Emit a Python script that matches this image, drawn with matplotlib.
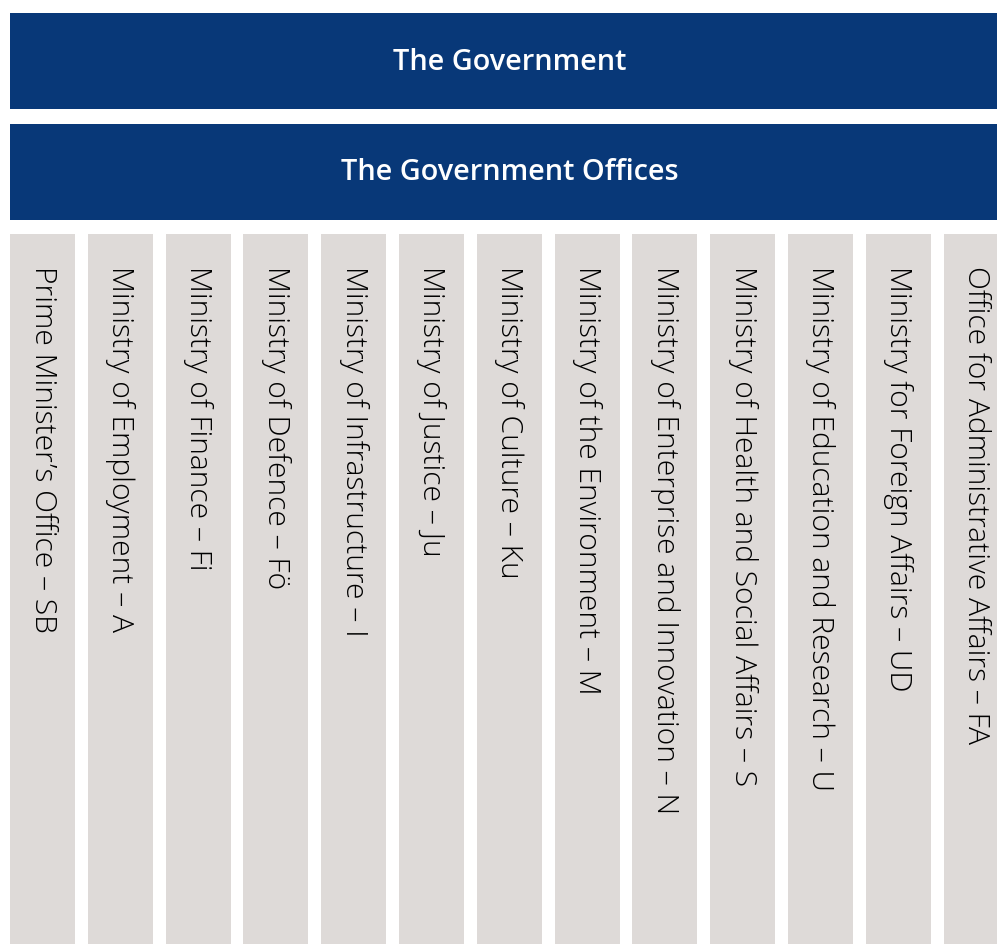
import matplotlib
matplotlib.use("Agg")
import matplotlib.pyplot as plt
from matplotlib.patches import Rectangle

top_labels = ["The Government", "The Government Offices"]
ministries = [
    "Prime Minister’s Office – SB",
    "Ministry of Employment – A",
    "Ministry of Finance – Fi",
    "Ministry of Defence – Fö",
    "Ministry of Infrastructure – I",
    "Ministry of Justice – Ju",
    "Ministry of Culture – Ku",
    "Ministry of the Environment – M",
    "Ministry of Enterprise and Innovation – N",
    "Ministry of Health and Social Affairs – S",
    "Ministry of Education and Research – U",
    "Ministry for Foreign Affairs – UD",
    "Office for Administrative Affairs – FA",
]

BLUE = "#083878"
GRAY = "#dedad8"

W, H = 997, 945
fig = plt.figure(figsize=(W / 100, H / 100), dpi=100)
ax = fig.add_axes([0, 0, 1, 1])
ax.set_xlim(0, W)
ax.set_ylim(H, 0)
ax.axis("off")

# header bars
bar_tops = [14, 125]
bar_h = 96
bar_x0, bar_x1 = 10, 1009
for lab, y0 in zip(top_labels, bar_tops):
    ax.add_patch(Rectangle((bar_x0, y0), bar_x1 - bar_x0, bar_h, facecolor=BLUE, edgecolor="none"))
    ax.text((bar_x0 + bar_x1) / 2, y0 + bar_h / 2, lab, color="white", fontsize=20.8,
            fontfamily="Open Sans", fontweight="semibold", ha="center", va="center")

# ministry columns
col_x0 = 10
col_w = 65
pitch = 77.8
col_top = 235
for i, name in enumerate(ministries):
    x0 = col_x0 + i * pitch
    ax.add_patch(Rectangle((x0, col_top), col_w, H - col_top + 10, facecolor=GRAY, edgecolor="none"))
    ax.text(x0 + col_w / 2, 266, name, rotation=-90, color="black", fontsize=21.6,
            fontfamily="Open Sans", fontweight="light", ha="center", va="top")

fig.savefig("out.png", dpi=100)
